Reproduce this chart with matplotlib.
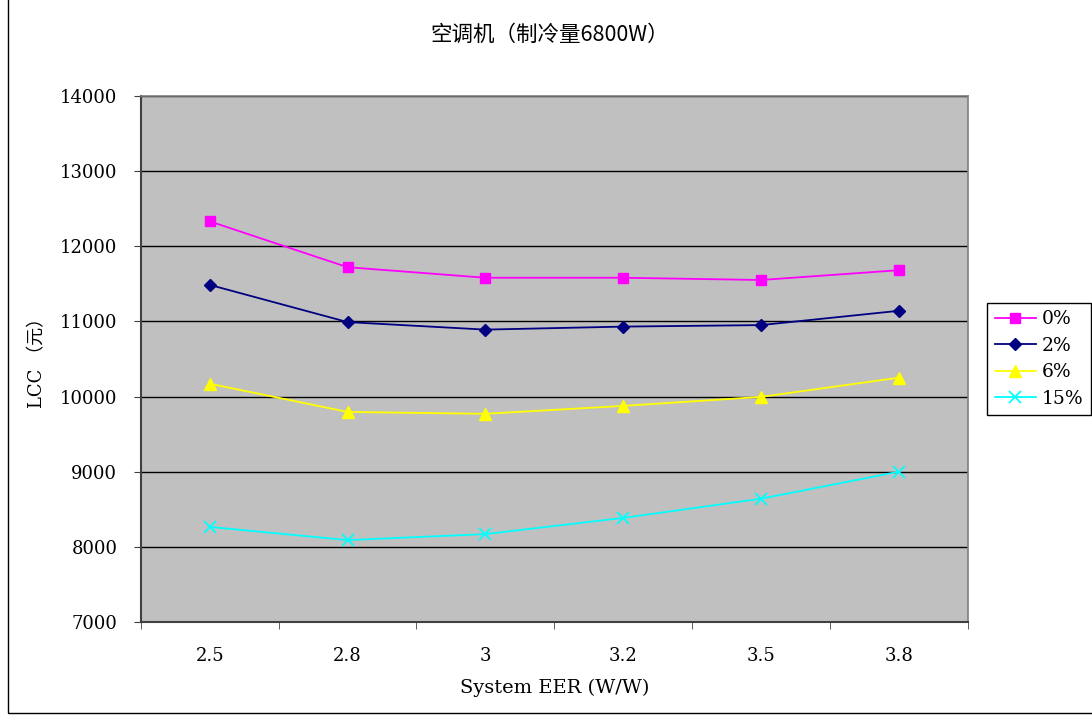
import numpy as np
import matplotlib
matplotlib.use('Agg')
from matplotlib import pyplot as plt
from matplotlib.patches import Rectangle

plt.rcParams['font.family'] = ['DejaVu Serif', 'Noto Sans CJK SC']

# LCC in Yuan for each system EER, one list per discount rate
eer_labels = ['2.5', '2.8', '3', '3.2', '3.5', '3.8']
lcc_0 = [12330, 11720, 11580, 11580, 11550, 11680]
lcc_2 = [11485, 10990, 10890, 10930, 10950, 11140]
lcc_6 = [10170, 9795, 9770, 9875, 9995, 10250]
lcc_15 = [8265, 8090, 8170, 8385, 8640, 9000]
rate_labels = ['0%', '2%', '6%', '15%']

fig = plt.figure(figsize=(10.92, 7.15), dpi=100)
ax = fig.add_axes([0.129, 0.130, 0.757, 0.736])
ax.set_facecolor('#C0C0C0')

x = np.arange(len(eer_labels))
ax.plot(x, lcc_0, color='#FF00FF', marker='s', markersize=7, lw=1.3, label=rate_labels[0])
ax.plot(x, lcc_2, color='#000080', marker='D', markersize=6, lw=1.3, label=rate_labels[1])
ax.plot(x, lcc_6, color='#FFFF00', marker='^', markersize=8, lw=1.3, label=rate_labels[2])
ax.plot(x, lcc_15, color='#00FFFF', marker='x', markersize=8, mew=1.3, lw=1.3, label=rate_labels[3])

ax.set_xlim(-0.5, len(eer_labels) - 0.5)
ax.set_ylim(7000, 14000)
ax.set_yticks(np.arange(7000, 14001, 1000))
ax.yaxis.grid(True, color='black', lw=1)
ax.set_axisbelow(True)

# category labels centred, tick marks on the bin edges
ax.set_xticks(x)
ax.set_xticklabels(eer_labels, fontsize=13)
ax.tick_params(axis='x', which='major', length=0, pad=18)
ax.set_xticks(np.arange(-0.5, len(eer_labels)), minor=True)
ax.tick_params(axis='x', which='minor', length=5, direction='out', color='#404040')
ax.tick_params(axis='y', length=5, direction='out', labelsize=13, pad=12, color='#404040')

for side in ['left', 'bottom']:
    ax.spines[side].set_color('#404040')
    ax.spines[side].set_linewidth(1.5)
for side in ['top', 'right']:
    ax.spines[side].set_color('#808080')
    ax.spines[side].set_linewidth(1.2)

ax.set_xlabel('System EER (W/W)', fontsize=14, labelpad=10)
ax.set_ylabel('LCC （元）', fontsize=13, labelpad=10)
fig.text(0.503, 0.951, '空调机（制冷量6800W）', ha='center', va='center', fontsize=15.5,
         family=['Noto Sans CJK SC', 'DejaVu Sans'])

leg = ax.legend(loc='center left', bbox_to_anchor=(0.904, 0.498), bbox_transform=fig.transFigure,
                fancybox=False, edgecolor='black', framealpha=1, fontsize=13.5,
                handlelength=2.2, borderpad=0.4, labelspacing=0.45, handletextpad=0.3,
                borderaxespad=0)
leg.get_frame().set_linewidth(1)

fig.patches.append(Rectangle((0.007, 0.003), 1.2, 1.2, transform=fig.transFigure,
                             fill=False, edgecolor='black', lw=1))

fig.savefig('out.png', dpi=100)
